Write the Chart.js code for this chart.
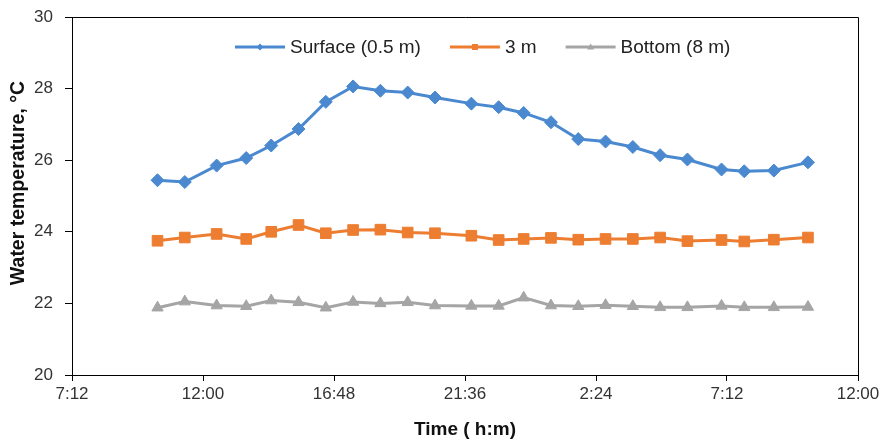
<!DOCTYPE html>
<html>
<head>
<meta charset="utf-8">
<script src="https://cdn.jsdelivr.net/npm/chart.js@4"></script>
<style>
  html, body { margin: 0; padding: 0; background: #fff; }
  #wrap { width: 886px; height: 441px; }
</style>
</head>
<body>
<div id="wrap"><canvas id="myChart" width="886" height="441"></canvas></div>
<script>
// sampling times (h:mm), second day after midnight
const times = ['10:20', '11:20', '12:30', '13:35', '14:30', '15:30', '16:30', '17:30',
    '18:30', '19:30', '20:30', '21:50', '22:50', '23:45', '0:45', '1:45',
    '2:45', '3:45', '4:45', '5:45', '7:00', '7:50', '8:55', '10:10'];

const surface = [25.44, 25.39, 25.85, 26.06, 26.41, 26.87, 27.63, 28.06,
    27.94, 27.89, 27.75, 27.58, 27.48, 27.32, 27.06, 26.59,
    26.52, 26.37, 26.14, 26.02, 25.74, 25.69, 25.71, 25.94];

const mid3m = [23.75, 23.84, 23.94, 23.80, 24.00, 24.19, 23.96, 24.05,
    24.06, 23.98, 23.96, 23.89, 23.77, 23.80, 23.83, 23.78,
    23.80, 23.80, 23.84, 23.74, 23.77, 23.73, 23.78, 23.84];

const bottom = [21.88, 22.05, 21.94, 21.92, 22.08, 22.03, 21.88, 22.04,
    22.00, 22.03, 21.94, 21.93, 21.93, 22.16, 21.94, 21.92,
    21.95, 21.92, 21.89, 21.89, 21.93, 21.89, 21.89, 21.90];

const xTickValues = [7.2, 12, 16.8, 21.6, 26.4, 31.2, 36];
const xTickLabels = ['7:12', '12:00', '16:48', '21:36', '2:24', '7:12', '12:00'];

const yTicks = [20, 22, 24, 26, 28, 30];

const yTitle = 'Water temperature, °C';

// hours since midnight of day 1
let prev = 0, dayOff = 0;
const hours = times.map(t => {
    const p = t.split(':');
    let h = +p[0] + p[1] / 60;
    if (h + dayOff < prev) dayOff += 24;
    prev = h + dayOff;
    return prev;
});

const pts = vals => vals.map((v, i) => ({ x: hours[i], y: v }));

const blue = '#4A89CF', orange = '#ED7D31', gray = '#A5A5A5';
const fam = '"Liberation Sans", Arial, sans-serif';

const data = {
    datasets: [{
            label: 'Surface (0.5 m)',
            data: pts(surface),
            borderColor: blue,
            backgroundColor: blue,
            pointStyle: 'rectRot',
            pointRadius: 6.5
        }, {
            label: '3 m',
            data: pts(mid3m),
            borderColor: orange,
            backgroundColor: orange,
            pointStyle: 'rect',
            pointRadius: 7.5
        }, {
            label: 'Bottom (8 m)',
            data: pts(bottom),
            borderColor: gray,
            backgroundColor: gray,
            pointStyle: 'triangle',
            pointRadius: 6.5
        }]
};

// legend inside the plot box, top/right frame lines, y title
const boxLegend = {
    id: 'boxLegend',
    afterDraw(chart) {
        const ctx = chart.ctx;
        const a = chart.chartArea;
        ctx.save();
        ctx.strokeStyle = '#000';
        ctx.lineWidth = 1;
        ctx.beginPath();
        ctx.moveTo(a.left, a.top + 0.5);
        ctx.lineTo(a.right + 0.5, a.top + 0.5);
        ctx.lineTo(a.right + 0.5, a.bottom);
        ctx.stroke();

        // y axis title, sits a little above the middle of the plot
        ctx.save();
        ctx.translate(19, (a.top + a.bottom) / 2 - 13);
        ctx.rotate(-Math.PI / 2);
        ctx.font = 'bold 19.5px ' + fam;
        ctx.fillStyle = '#111';
        ctx.textAlign = 'center';
        ctx.textBaseline = 'middle';
        ctx.fillText(yTitle, 0, 0);
        ctx.restore();

        ctx.font = '19px ' + fam;
        ctx.textBaseline = 'middle';
        let x = a.left + 163;
        const y = a.top + 30;
        chart.data.datasets.forEach(ds => {
            ctx.strokeStyle = ds.borderColor;
            ctx.fillStyle = ds.borderColor;
            ctx.lineWidth = 3;
            ctx.beginPath();
            ctx.moveTo(x, y);
            ctx.lineTo(x + 50, y);
            ctx.stroke();
            const cx = x + 25, r = 3.5;
            ctx.beginPath();
            if (ds.pointStyle === 'rectRot') {
                ctx.moveTo(cx - r, y); ctx.lineTo(cx, y - r);
                ctx.lineTo(cx + r, y); ctx.lineTo(cx, y + r);
            } else if (ds.pointStyle === 'rect') {
                ctx.rect(cx - 3, y - 3, 6, 6);
            } else {
                ctx.moveTo(cx - r, y + 2.5); ctx.lineTo(cx, y - 3.5); ctx.lineTo(cx + r, y + 2.5);
            }
            ctx.closePath();
            ctx.fill();
            ctx.fillStyle = '#222';
            ctx.fillText(ds.label, x + 55, y + 1);
            x += 55 + ctx.measureText(ds.label).width + 29;
        });
        ctx.restore();
    }
};

const tickFont = { family: fam, size: 17 };

const config = {
    type: 'line',
    data: data,
    options: {
        responsive: false,
        animation: false,
        layout: { padding: { left: 0, right: 28, top: 17, bottom: 0 } },
        elements: {
            line: { borderWidth: 3, tension: 0 },
            point: { borderWidth: 1 }
        },
        plugins: {
            legend: { display: false },
            tooltip: { enabled: false }
        },
        scales: {
            x: {
                type: 'linear',
                min: 7.2,
                max: 36,
                afterBuildTicks: s => { s.ticks = xTickValues.map(v => ({ value: v })); },
                afterFit: s => { s.height = 66; s.paddingRight = 0; },
                grid: { drawOnChartArea: false, tickLength: 6, color: '#000' },
                border: { color: '#000' },
                ticks: {
                    autoSkip: false,
                    maxRotation: 0,
                    padding: 3,
                    color: '#333',
                    font: tickFont,
                    callback: (v, i) => xTickLabels[i]
                },
                title: {
                    display: true,
                    text: 'Time ( h:m)',
                    color: '#111',
                    font: { family: fam, size: 19, weight: 'bold' },
                    padding: { top: 0, bottom: 0 }
                }
            },
            y: {
                min: 20,
                max: 30,
                afterBuildTicks: s => { s.ticks = yTicks.map(v => ({ value: v })); },
                afterFit: s => { s.width = 72; s.paddingTop = 0; s.paddingBottom = 0; },
                grid: { drawOnChartArea: false, tickLength: 7, color: '#000' },
                border: { color: '#000' },
                ticks: {
                    padding: 12,
                    color: '#333',
                    font: tickFont
                },
                title: { display: false }
            }
        }
    },
    plugins: [boxLegend]
};

// =================

var ctx = document.getElementById('myChart');
const myChart = new Chart(ctx, config);
</script>
</body>
</html>
